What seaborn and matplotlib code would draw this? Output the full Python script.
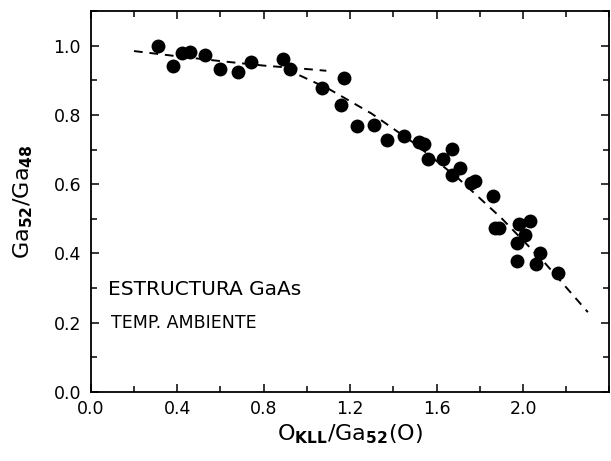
import seaborn as sns
import matplotlib.pyplot as plt
import pandas as pd
from matplotlib.ticker import MultipleLocator

# measured points
oxy_ratio = [0.31, 0.38, 0.42, 0.46, 0.53, 0.60, 0.68, 0.74, 0.89, 0.92,
             1.07, 1.17, 1.16, 1.23, 1.31, 1.37, 1.45, 1.52, 1.54, 1.56,
             1.63, 1.67, 1.67, 1.71, 1.76, 1.78, 1.86, 1.87, 1.89, 1.98,
             2.03, 2.01, 1.97, 1.97, 2.08, 2.06, 2.16]
ga_ratio = [1.00, 0.942, 0.98, 0.983, 0.973, 0.932, 0.925, 0.953, 0.963, 0.932,
            0.878, 0.908, 0.828, 0.767, 0.772, 0.728, 0.74, 0.722, 0.715, 0.672,
            0.673, 0.702, 0.628, 0.647, 0.603, 0.608, 0.567, 0.474, 0.474, 0.486,
            0.495, 0.454, 0.43, 0.377, 0.401, 0.368, 0.344]

# dashed guide curves
curve1_x = [0.2, 0.4, 0.6, 0.8, 1.0, 1.09]
curve1_y = [0.985, 0.970, 0.956, 0.943, 0.933, 0.928]
curve2_x = [0.9, 1.1, 1.3, 1.5, 1.7, 1.9, 2.1, 2.3]
curve2_y = [0.934, 0.876, 0.804, 0.717, 0.617, 0.502, 0.373, 0.23]

df = pd.DataFrame({"x": oxy_ratio, "y": ga_ratio})
c1 = pd.DataFrame({"x": curve1_x, "y": curve1_y})
c2 = pd.DataFrame({"x": curve2_x, "y": curve2_y})

sns.set_style("ticks")
plt.rcParams["font.family"] = ["DejaVu Sans"]
plt.rcParams["text.color"] = "black"
plt.rcParams["axes.labelcolor"] = "black"

fig = plt.figure(figsize=(6.11, 4.61), dpi=100)
ax = fig.add_axes([0.1485, 0.1503, 0.849, 0.8252])

sns.lineplot(data=c1, x="x", y="y", ax=ax, color="black", lw=1.4,
             linestyle=(0, (4.5, 3.5)), sort=False)
sns.lineplot(data=c2, x="x", y="y", ax=ax, color="black", lw=1.4,
             linestyle=(0, (4.5, 3.5)), sort=False)
sns.scatterplot(data=df, x="x", y="y", ax=ax, color="black", s=100,
                edgecolor="black", linewidth=0, zorder=3)

ax.set_xlim(0, 2.4)
ax.set_ylim(0, 1.1)
ax.xaxis.set_major_locator(MultipleLocator(0.4))
ax.xaxis.set_minor_locator(MultipleLocator(0.2))
ax.yaxis.set_major_locator(MultipleLocator(0.2))
ax.yaxis.set_minor_locator(MultipleLocator(0.1))
ax.set_xticks([0.0, 0.4, 0.8, 1.2, 1.6, 2.0])
ax.tick_params(which="both", direction="in", top=True, right=True, width=1.1,
               color="black", labelsize=12.5, labelcolor="black")
ax.tick_params(which="major", length=6)
ax.tick_params(which="minor", length=4)
ax.tick_params(axis="y", pad=7)
ax.tick_params(axis="x", pad=6)
for s in ax.spines.values():
    s.set_linewidth(1.3)
    s.set_color("black")

ax.set_xlabel(r"O$_{\mathbf{KLL}}$/Ga$_{\mathbf{52}}$(O)", fontsize=16, labelpad=3)
ax.set_ylabel(r"Ga$_{\mathbf{52}}$/Ga$_{\mathbf{48}}$", fontsize=16, labelpad=13)

ax.text(0.08, 0.28, "ESTRUCTURA GaAs", fontsize=14.5)
ax.text(0.092, 0.185, "TEMP. AMBIENTE", fontsize=12.5)

fig.savefig("out.png", dpi=100)
